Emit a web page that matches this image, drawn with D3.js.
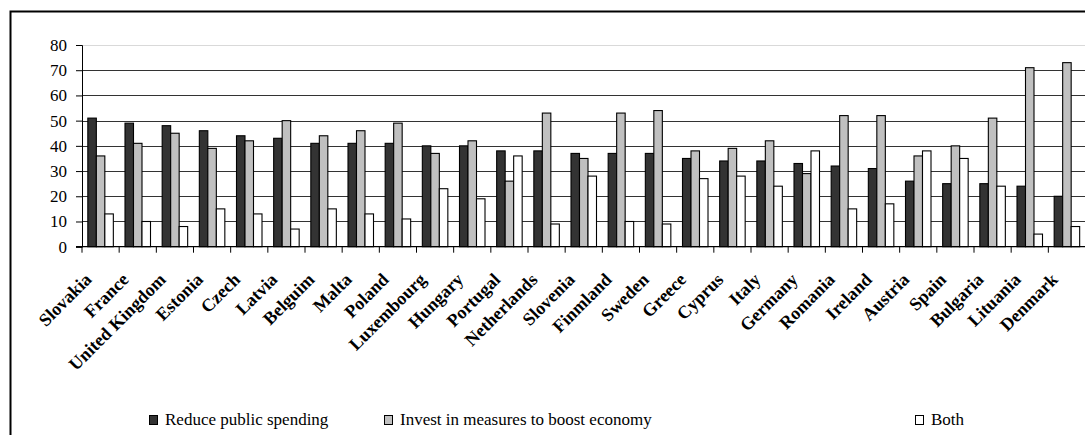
<!DOCTYPE html>
<html>
<head>
<meta charset="utf-8">
<script src="https://cdn.jsdelivr.net/npm/d3@7"></script>
<style>
  html, body { margin: 0; padding: 0; background: #fff; }
  svg { display: block; }
</style>
</head>
<body>
<svg id="chart" width="1085" height="435"></svg>
<script>
// Countries in the order they are plotted
const countries = ["Slovakia", "France", "United Kingdom", "Estonia", "Czech", "Latvia", "Belguim",
  "Malta", "Poland", "Luxembourg", "Hungary", "Portugal", "Netherlands", "Slovenia", "Finmland",
  "Sweden", "Greece", "Cyprus", "Italy", "Germany", "Romania", "Ireland", "Austria", "Spain",
  "Bulgaria", "Lituania", "Denmark"];

// Share of answers (%) per country
const reduceSpending = [51, 49, 48, 46, 44, 43, 41, 41, 41, 40, 40, 38, 38, 37, 37, 37, 35, 34, 34, 33, 32, 31, 26, 25, 25, 24, 20];
const investEconomy  = [36, 41, 45, 39, 42, 50, 44, 46, 49, 37, 42, 26, 53, 35, 53, 54, 38, 39, 42, 29, 52, 52, 36, 40, 51, 71, 73];
const both           = [13, 10,  8, 15, 13,  7, 15, 13, 11, 23, 19, 36,  9, 28, 10,  9, 27, 28, 24, 38, 15, 17, 38, 35, 24,  5,  8];

const seriesNames = ["Reduce public spending", "Invest in measures to boost economy", "Both"];
const seriesFills = ["#333333", "#c0c0c0", "#ffffff"];
const yTicks = [0, 10, 20, 30, 40, 50, 60, 70, 80];

const seriesValues = [reduceSpending, investEconomy, both];
const rows = countries.map((c, i) => ({
  country: c,
  values: seriesNames.map((s, k) => ({ series: s, value: seriesValues[k][i] }))
}));

const svg = d3.select("#chart");
const serif = "'Liberation Serif', 'Times New Roman', serif";

// outer chart frame (right and bottom edges fall outside the view)
svg.append("rect")
  .attr("x", 10.5).attr("y", 11.5)
  .attr("width", 1100).attr("height", 450)
  .attr("fill", "#fff").attr("stroke", "#000").attr("stroke-width", 2);

const plot = { left: 82, right: 1085.5, top: 45, bottom: 246.7 };

const x0 = d3.scaleBand().domain(countries).range([plot.left, plot.right]).paddingInner(0).paddingOuter(0);
const x1 = d3.scaleBand().domain(seriesNames).range([0, x0.bandwidth()]).paddingInner(0).paddingOuter(0.686);
const y = d3.scaleLinear().domain([0, 80]).range([plot.bottom, plot.top]);
const color = d3.scaleOrdinal().domain(seriesNames).range(seriesFills);

// horizontal gridlines
svg.append("g").selectAll("line")
  .data(yTicks.filter(t => t > 0))
  .join("line")
  .attr("x1", plot.left).attr("x2", plot.right)
  .attr("y1", d => Math.round(y(d)) + 0.5).attr("y2", d => Math.round(y(d)) + 0.5)
  .attr("stroke", d => d === 80 ? "#d9d9d9" : "#333")
  .attr("stroke-width", 1.2);

// bars
svg.append("g").selectAll("g")
  .data(rows)
  .join("g")
  .attr("transform", d => `translate(${x0(d.country)},0)`)
  .selectAll("rect")
  .data(d => d.values)
  .join("rect")
  .attr("x", d => x1(d.series))
  .attr("y", d => y(d.value))
  .attr("width", x1.bandwidth())
  .attr("height", d => y(0) - y(d.value))
  .attr("fill", d => color(d.series))
  .attr("stroke", "#000")
  .attr("stroke-width", 1.1);

// y axis
const yAxis = svg.append("g")
  .attr("transform", `translate(${plot.left},0)`)
  .call(d3.axisLeft(y).tickValues(yTicks).tickSize(6).tickPadding(9).tickFormat(d3.format("d")));
yAxis.select(".domain").attr("stroke", "#000");
yAxis.selectAll(".tick line").attr("stroke", "#000");
yAxis.selectAll("text")
  .attr("font-family", serif).attr("font-size", 17).attr("fill", "#000");

// x axis: ticks mark the boundaries between countries
const xAxisG = svg.append("g").attr("transform", `translate(0,${plot.bottom})`);
xAxisG.append("line")
  .attr("x1", plot.left - 6).attr("x2", plot.right)
  .attr("stroke", "#000").attr("stroke-width", 1.2);
xAxisG.selectAll("line.tick")
  .data(countries)
  .join("line")
  .attr("class", "tick")
  .attr("x1", d => x0(d)).attr("x2", d => x0(d))
  .attr("y1", 0).attr("y2", 6)
  .attr("stroke", "#000");

// rotated country names
svg.append("g").selectAll("text")
  .data(countries)
  .join("text")
  .attr("transform", d => `translate(${x0(d) + x0.bandwidth() / 2 - 8},${plot.bottom + 34}) rotate(-45)`)
  .attr("text-anchor", "end")
  .attr("font-family", serif)
  .attr("font-weight", "bold")
  .attr("font-size", 18)
  .attr("fill", "#000")
  .text(d => d);

// legend
const legendX = [149, 384, 915];
const legend = svg.append("g").selectAll("g")
  .data(seriesNames)
  .join("g")
  .attr("transform", (d, i) => `translate(${legendX[i]},415)`);
legend.append("rect")
  .attr("x", 0.5).attr("y", 0.5)
  .attr("width", 8).attr("height", 9)
  .attr("fill", d => color(d))
  .attr("stroke", "#000");
legend.append("text")
  .attr("x", 16).attr("y", 10)
  .attr("font-family", serif)
  .attr("font-size", 17)
  .attr("fill", "#000")
  .text(d => d);
</script>
</body>
</html>
